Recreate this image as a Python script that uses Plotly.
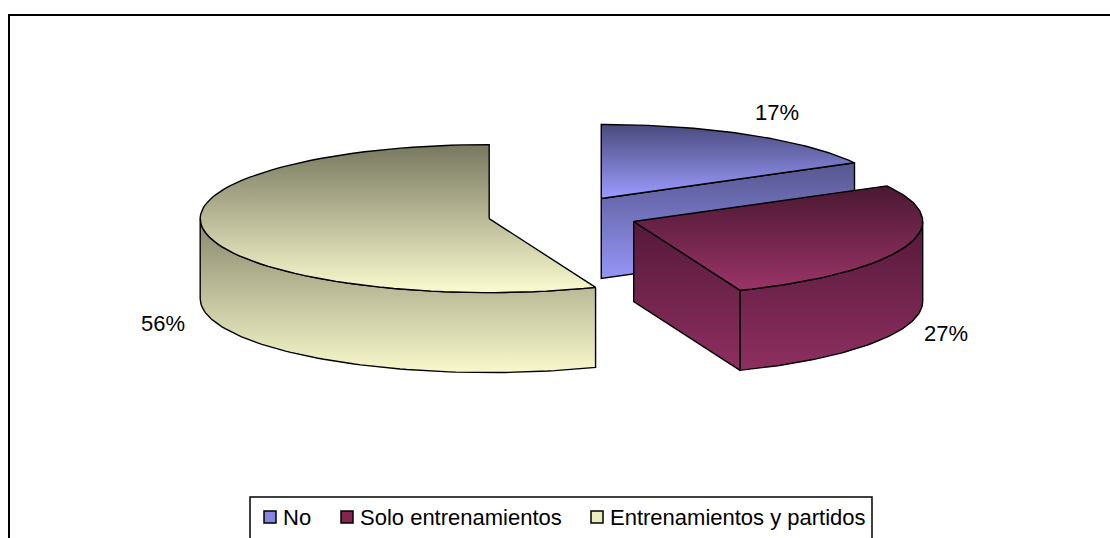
import numpy as np
import plotly.graph_objects as go

# ---- data ----
categories = ["No", "Solo entrenamientos", "Entrenamientos y partidos"]
percentages = [17, 27, 56]
value_labels = [f"{p}%" for p in percentages]

# ---- style ----
top_shades = [("#4a4a7e", "#9c9cff"), ("#4a1831", "#9a3468"), ("#787860", "#fbfbcf")]
side_shades = [("#56568f", "#9595f6"), ("#55193a", "#8e2f60"), ("#87876c", "#f8f8cb")]
legend_colors = ["#8585e2", "#84254f", "#ececc0"]
FONT = "Liberation Sans, Arial, sans-serif"

W, H = 1110, 538
# projected pie geometry (pixels)
CX, CY = 563, 215
RX, RY = 289, 74
DEPTH = 80
EXPLODE = 0.26

fig = go.Figure()


def ellipse(cx, cy, a0, a1, n=80):
    t = np.radians(np.linspace(a0, a1, n))
    return cx + RX * np.sin(t), cy - RY * np.cos(t)


def add_face(xs, ys, shades):
    xs = list(xs) + [xs[0]]
    ys = list(ys) + [ys[0]]
    fig.add_trace(go.Scatter(
        x=xs, y=ys, mode="lines", fill="toself",
        line=dict(color="black", width=1.4),
        fillgradient=dict(type="vertical",
                          colorscale=[[0, shades[0]], [1, shades[1]]],
                          start=min(ys), stop=max(ys)),
        hoverinfo="skip", showlegend=False))


total = sum(percentages)
bounds = np.concatenate([[0], np.cumsum(percentages) / total * 360])
slices = []
for i, cat in enumerate(categories):
    a0, a1 = bounds[i], bounds[i + 1]
    mid = np.radians((a0 + a1) / 2)
    scx = CX + EXPLODE * RX * np.sin(mid)
    scy = CY - EXPLODE * RY * np.cos(mid)
    slices.append((i, a0, a1, mid, scx, scy))

# back slice first, then the left one, then the front-right one
draw_order = [0, 2, 1]
for i in draw_order:
    _, a0, a1, mid, scx, scy = slices[i]
    # outer wall (front half of the rim only)
    w0, w1 = max(a0, 90), min(a1, 270)
    if w0 < w1:
        tx, ty = ellipse(scx, scy, w0, w1)
        add_face(np.concatenate([tx, tx[::-1]]),
                 np.concatenate([ty, ty[::-1] + DEPTH]), side_shades[i])
    # radial cut faces turned toward the viewer
    for a, vis in ((a0, np.sin(np.radians(a0)) < -1e-9),
                   (a1, np.sin(np.radians(a1)) > 1e-9)):
        if vis:
            ex = scx + RX * np.sin(np.radians(a))
            ey = scy - RY * np.cos(np.radians(a))
            add_face([scx, ex, ex, scx], [scy, ey, ey + DEPTH, scy + DEPTH],
                     side_shades[i])
    # top face
    tx, ty = ellipse(scx, scy, a0, a1)
    add_face(np.concatenate([[scx], tx]), np.concatenate([[scy], ty]),
             top_shades[i])

# percentage labels placed just outside each slice
label_shift = [(29, -22), (40, 7), (-42, 11)]
for i, _, _, mid, scx, scy in slices:
    ex = scx + RX * np.sin(mid)
    ey = scy - RY * np.cos(mid) + (DEPTH if np.cos(mid) < 0 else 0)
    dx, dy = label_shift[i]
    fig.add_annotation(x=ex + dx, y=ey + dy, text=value_labels[i],
                       showarrow=False, xanchor="center", yanchor="middle",
                       font=dict(family=FONT, size=22, color="black"))

# chart frame
fig.add_shape(type="rect", x0=9, y0=15, x1=W + 20, y1=H + 20,
              line=dict(color="black", width=2), layer="above")

# legend
fig.add_shape(type="rect", x0=250, y0=497, x1=872, y1=H + 20,
              line=dict(color="black", width=1.5), fillcolor="white")
legend_x = [264, 341, 591]
for cat, col, lx in zip(categories, legend_colors, legend_x):
    fig.add_shape(type="rect", x0=lx, y0=511, x1=lx + 12, y1=523,
                  line=dict(color="black", width=1.5), fillcolor=col)
    fig.add_annotation(x=lx + 17, y=517.5, text=cat, showarrow=False,
                       xanchor="left", yanchor="middle",
                       font=dict(family=FONT, size=22, color="black"))

fig.update_layout(
    width=W, height=H, margin=dict(l=0, r=0, t=0, b=0),
    paper_bgcolor="white", plot_bgcolor="white", showlegend=False,
    xaxis=dict(range=[0, W], visible=False, fixedrange=True),
    yaxis=dict(range=[H, 0], visible=False, fixedrange=True),
)

fig.write_html("out.html")
